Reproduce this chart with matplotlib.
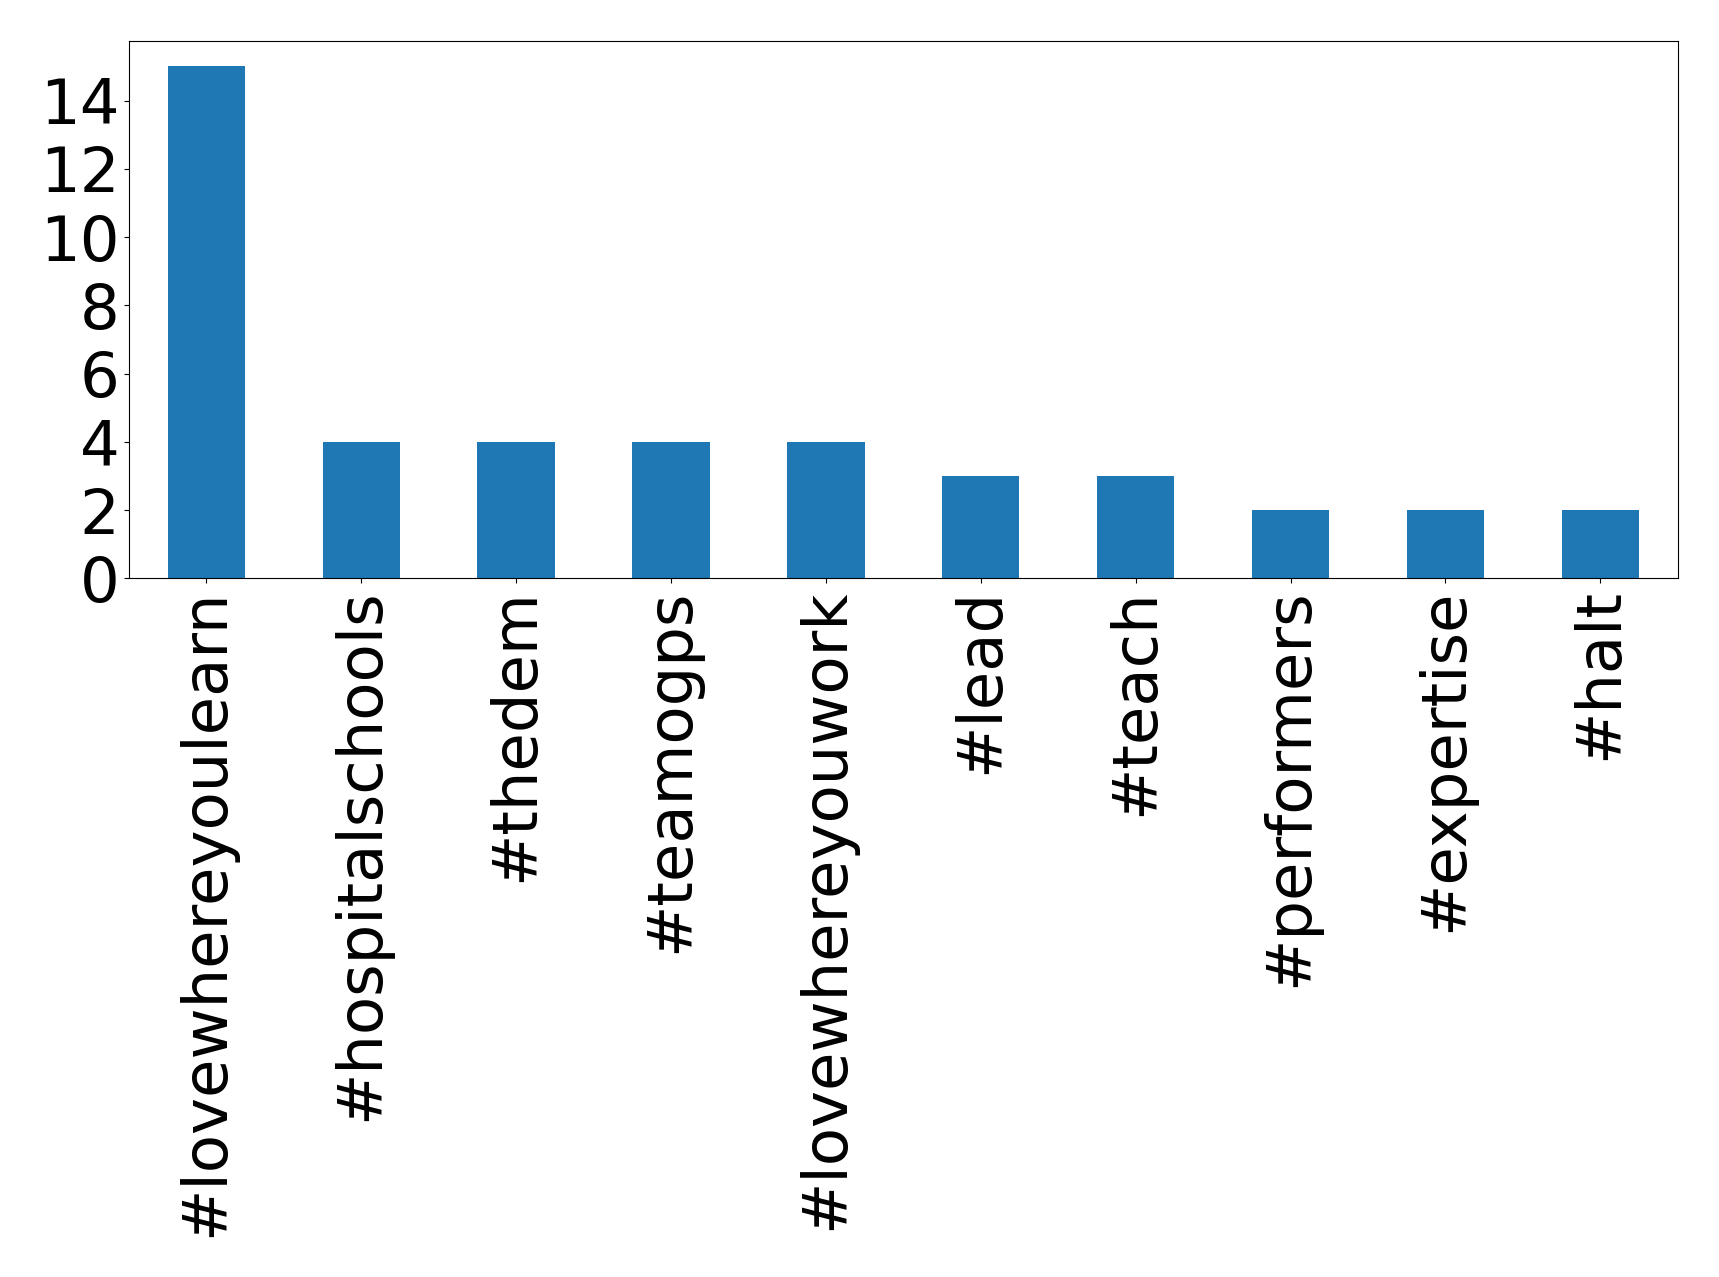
import matplotlib
matplotlib.use("Agg")
import matplotlib.pyplot as plt
import numpy as np

hashtags = ['#lovewhereyoulearn', '#hospitalschools', '#thedem', '#teamogps',
            '#lovewhereyouwork', '#lead', '#teach', '#performers', '#expertise', '#halt']
counts = [15, 4, 4, 4, 4, 3, 3, 2, 2, 2]

fig = plt.figure(figsize=(17.19, 12.77), dpi=100)
ax = fig.add_axes([0.075, 0.547, 0.901, 0.421])

x = np.arange(len(hashtags))
ax.bar(x, counts, width=0.5, color='#1f77b4')
ax.set_xlim(-0.5, len(hashtags) - 0.5)
ax.set_ylim(0, max(counts) * 1.05)
ax.set_xticks(x)
ax.set_xticklabels(hashtags, rotation=90, fontsize=45)
ax.set_yticks(range(0, 15, 2))
ax.tick_params(axis='y', labelsize=45)

plt.savefig('out.png', dpi=100)
